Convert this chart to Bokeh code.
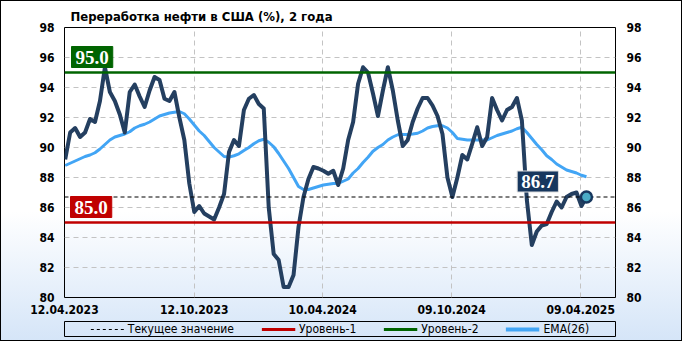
import pandas as pd
from bokeh.plotting import figure
from bokeh.layouts import column
from bokeh.models import (Range1d, FixedTicker, LinearAxis, Label, Legend,
                          LegendItem)
from bokeh.embed import file_html
from bokeh.resources import INLINE

# ---------------- data ----------------
weeks = pd.date_range("2023-04-13", periods=106, freq="7D")

refining = [
    89.2, 91.0, 91.3, 90.7, 91.0, 91.9, 91.7, 93.1, 95.35, 93.7,
    93.1, 92.2, 91.0, 93.7, 94.2, 93.4, 92.7, 93.8, 94.7, 94.5,
    93.25, 93.1, 93.7, 92.0, 90.5, 87.6, 85.7, 86.1, 85.6, 85.4,
    85.2, 86.0, 86.9, 89.7, 90.5, 90.1, 92.5, 93.25, 93.5, 92.9,
    92.6, 86.0, 82.9, 82.5, 80.7, 80.7, 81.5, 84.7, 86.7, 87.9,
    88.7, 88.6, 88.45, 88.25, 88.45, 87.5, 88.6, 90.5, 91.7, 94.25,
    95.35, 95.0, 93.6, 92.1, 93.8, 95.35, 93.8, 91.8, 90.1, 90.5,
    91.7, 92.6, 93.3, 93.3, 92.8, 92.1, 90.9, 88.0, 86.7, 88.0,
    89.5, 89.2, 90.25, 91.35, 90.1, 90.7, 93.3, 92.5, 91.8, 92.5,
    92.7, 93.3, 91.8, 86.5, 83.5, 84.4, 84.8, 84.9, 85.7, 86.4,
    86.0, 86.7, 86.9, 87.0, 86.1, 86.7,
]

ema26 = [
    88.8, 88.95, 89.1, 89.25, 89.4, 89.5, 89.65, 89.9, 90.2, 90.5,
    90.7, 90.8, 90.9, 91.05, 91.3, 91.45, 91.55, 91.7, 91.9, 92.1,
    92.2, 92.3, 92.35, 92.4, 92.25, 91.9, 91.5, 91.1, 90.8, 90.4,
    90.0, 89.7, 89.4, 89.36, 89.45, 89.58, 89.8, 90.0, 90.25, 90.45,
    90.55, 90.35, 90.05, 89.6, 89.1, 88.6, 88.0, 87.4, 87.2, 87.2,
    87.3, 87.4, 87.5, 87.55, 87.6, 87.6, 87.75, 87.9, 88.3, 88.6,
    89.0, 89.35, 89.75, 90.0, 90.2, 90.5, 90.7, 90.85, 90.87, 90.87,
    90.9, 90.95, 91.1, 91.3, 91.4, 91.45, 91.45, 91.3, 91.0, 90.6,
    90.55, 90.5, 90.5, 90.5, 90.5, 90.5, 90.65, 90.8, 90.9, 91.0,
    91.1, 91.25, 91.35, 91.0, 90.6, 90.2, 89.85, 89.45, 89.2, 88.9,
    88.7, 88.5, 88.4, 88.3, 88.15, 88.05,
]

level_1 = 85.0
level_2 = 95.0

x_tick_dates = pd.to_datetime(["2023-04-12", "2023-10-12", "2024-04-10",
                               "2024-10-09", "2025-04-09"])
x_tick_labels = ["12.04.2023", "12.10.2023", "10.04.2024",
                 "09.10.2024", "09.04.2025"]
y_ticks = [80, 82, 84, 86, 88, 90, 92, 94, 96, 98]

legend_labels = ["Текущее значение", "Уровень-1", "Уровень-2", "EMA(26)"]

x_start = pd.Timestamp("2023-04-12")
x_end = pd.Timestamp("2025-05-28")

FONT = "DejaVu Sans Condensed"
C_MAIN = "#243f60"
C_EMA = "#42a5f5"
C_L1 = "#c00000"
C_L2 = "#006400"

# ---------------- main figure ----------------
p = figure(width=682, height=318, x_axis_type="datetime",
           x_range=Range1d(x_start, x_end), y_range=Range1d(80, 98),
           output_backend="svg", toolbar_location=None,
           min_border_left=64, min_border_right=67,
           min_border_top=27, min_border_bottom=21,
           background_fill_color=None, border_fill_color=None,
           outline_line_color="black", outline_line_width=1,
           title="Переработка нефти  в США (%), 2 года")

p.title.text_font = FONT
p.title.text_font_size = "13px"
p.title.text_font_style = "bold"
p.title.text_color = "black"
p.title.align = "left"
p.title.offset = 6
p.title.standoff = 8

x_ms = [int(t.value // 10**6) for t in x_tick_dates]
x_ticker = FixedTicker(ticks=x_ms)
y_ticker = FixedTicker(ticks=y_ticks)

xa = p.xaxis[0]
xa.ticker = x_ticker
xa.major_label_overrides = {ms: lab for ms, lab in zip(x_ms, x_tick_labels)}

ra = LinearAxis()
p.add_layout(ra, "right")
p.yaxis[0].ticker = y_ticker
ra.ticker = y_ticker

for ax in (xa, p.yaxis[0], ra):
    ax.axis_line_color = None
    ax.major_tick_line_color = None
    ax.minor_tick_line_color = None
    ax.major_tick_out = 0
    ax.major_tick_in = 0
    ax.minor_tick_out = 0
    ax.minor_tick_in = 0
    ax.major_label_text_font = FONT
    ax.major_label_text_font_size = "12px"
    ax.major_label_text_font_style = "bold"
    ax.major_label_text_color = "black"
p.yaxis[0].major_label_standoff = 10
ra.major_label_standoff = 11
xa.major_label_standoff = 7

p.xgrid.ticker = x_ticker
p.ygrid.ticker = y_ticker
for g in (p.xgrid[0], p.ygrid[0]):
    g.grid_line_color = "#c3c3c3"
    g.grid_line_dash = "5 4"
    g.grid_line_width = 1

last_val = refining[-1]
p.line(weeks, ema26, color=C_EMA, line_width=3)
p.line(weeks, refining, color=C_MAIN, line_width=4, line_join="round")
p.line([x_start, x_end], [last_val, last_val], color="black",
       line_dash="4 3", line_width=1)
p.line([x_start, x_end], [level_1, level_1], color=C_L1, line_width=2.5)
p.line([x_start, x_end], [level_2, level_2], color=C_L2, line_width=2.5)
p.scatter([weeks[-1]], [last_val], size=11, fill_color="#4bacc6",
          line_color="#17375e", line_width=2.5)


def box_label(x, y, text, fill, x_offset, align):
    return Label(x=x, y=y, text=text, x_offset=x_offset, y_offset=5,
                 text_align=align, text_baseline="bottom",
                 text_color="white", text_font="Liberation Serif",
                 text_font_size="19px", text_font_style="bold",
                 background_fill_color=fill, border_line_color=fill,
                 padding=4)


p.add_layout(box_label(x_start, level_2, f"{level_2:.1f}", C_L2, 7, "left"))
p.add_layout(box_label(x_start, level_1, f"{level_1:.1f}", C_L1, 6, "left"))
lab = box_label(weeks[-1], last_val, f"{last_val:.1f}", "#17375e", -28, "right")
lab.border_line_color = "#dddddd"
p.add_layout(lab)

# ---------------- legend strip ----------------
pl = figure(width=682, height=23, x_range=Range1d(0, 1), y_range=Range1d(0, 1),
            output_backend="svg", toolbar_location=None,
            x_axis_location=None, y_axis_location=None,
            min_border_left=64, min_border_right=66,
            min_border_top=3, min_border_bottom=5,
            background_fill_color=None, border_fill_color=None,
            outline_line_color="black", outline_line_width=1)
pl.grid.visible = False

# legend swatches (series values lie outside this strip's ranges)
sw_cur = pl.line([x_start, x_end], [last_val, last_val], color="black",
                 line_dash="3 3", line_width=1)
sw_l1 = pl.line([x_start, x_end], [level_1, level_1], color=C_L1, line_width=3)
sw_l2 = pl.line([x_start, x_end], [level_2, level_2], color=C_L2, line_width=3)
sw_ema = pl.line(weeks, ema26, color=C_EMA, line_width=4)

legend = Legend(items=[LegendItem(label=t, renderers=[r]) for t, r in
                       zip(legend_labels, [sw_cur, sw_l1, sw_l2, sw_ema])],
                orientation="horizontal", location="center",
                glyph_width=34, glyph_height=12, label_standoff=4, spacing=27,
                padding=0, margin=0, border_line_alpha=0,
                background_fill_alpha=0, label_text_font=FONT,
                label_text_font_size="12px", label_text_color="black",
                label_height=12)
pl.add_layout(legend)

layout = column(p, pl, spacing=0)
layout.styles = {
    "background": "linear-gradient(to bottom, #ffffff 0%, #ffffff 62%, #d5e5f8 100%)",
    "box-shadow": "inset 0 0 0 1px #000000",
}

open("out.html", "w").write(file_html(layout, INLINE))
